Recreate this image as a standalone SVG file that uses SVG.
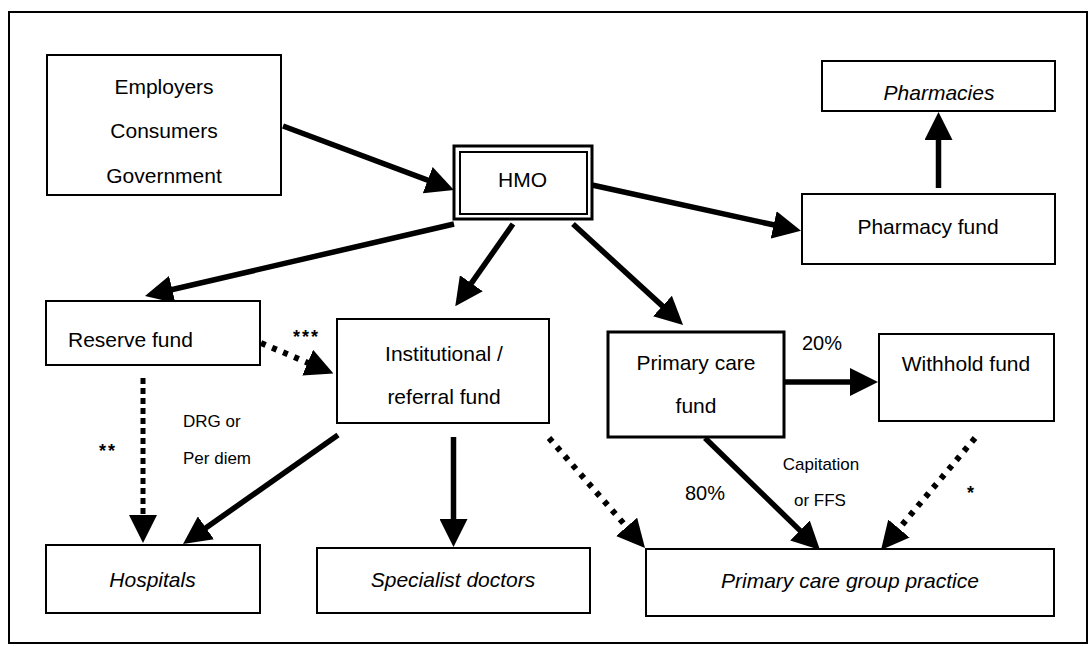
<svg xmlns="http://www.w3.org/2000/svg" width="1092" height="646" viewBox="0 0 1092 646">
<defs>
<style>
.box{fill:#fff;stroke:#000;stroke-width:2}
.t{font-family:"Liberation Sans",Arial,sans-serif;font-size:21px;fill:#000;text-anchor:middle}
.i{font-style:italic}
.s{font-family:"Liberation Sans",Arial,sans-serif;font-size:17px;fill:#000}
.st{font-family:"Liberation Sans",Arial,sans-serif;font-size:18px;font-weight:bold;fill:#000;letter-spacing:2px}
.ln{stroke:#000;stroke-width:5.5;fill:none}
.dot{stroke:#000;stroke-width:6;fill:none;stroke-dasharray:5 7}
.sq{stroke:#000;stroke-width:5;fill:none;stroke-dasharray:6 4}
</style>
<marker id="ah" viewBox="0 0 28 28" markerWidth="28" markerHeight="28" refX="2" refY="14" orient="auto" markerUnits="userSpaceOnUse">
<path d="M0,0 L28,14 L0,28 z" fill="#000"/>
</marker>
</defs>
<rect x="0" y="0" width="1092" height="646" fill="#fff"/>
<rect id="frame" x="9" y="12" width="1078" height="631" fill="none" stroke="#000" stroke-width="2"/>

<g id="connectors">
<line class="ln" x1="283" y1="126" x2="429.6" y2="180.9" marker-end="url(#ah)"/>
<line class="ln" x1="592" y1="185" x2="775.6" y2="225.3" marker-end="url(#ah)"/>
<line class="ln" x1="938.5" y1="188" x2="938.5" y2="138" marker-end="url(#ah)"/>
<line class="ln" x1="454" y1="224" x2="170.3" y2="290" marker-end="url(#ah)"/>
<line class="ln" x1="513" y1="224" x2="470.2" y2="284.9" marker-end="url(#ah)"/>
<line class="ln" x1="573" y1="224" x2="663.9" y2="307.4" marker-end="url(#ah)"/>
<line class="dot" x1="261" y1="343" x2="309.5" y2="363.5" marker-end="url(#ah)"/>
<line class="sq" x1="143" y1="378" x2="143" y2="517" marker-end="url(#ah)"/>
<line class="ln" x1="338" y1="435" x2="204.3" y2="529" marker-end="url(#ah)"/>
<line class="ln" x1="453.5" y1="437" x2="453.5" y2="521" marker-end="url(#ah)"/>
<line class="dot" x1="549" y1="438" x2="627.9" y2="528.4" marker-end="url(#ah)"/>
<line class="ln" x1="784" y1="382" x2="852" y2="382" marker-end="url(#ah)"/>
<line class="ln" x1="705" y1="438" x2="801.4" y2="531.9" marker-end="url(#ah)"/>
<line class="dot" x1="975" y1="438" x2="897.7" y2="530.1" marker-end="url(#ah)"/>
</g>

<g id="employers">
<rect class="box" x="47" y="55" width="234" height="140"/>
<text class="t" x="164" y="94">Employers</text>
<text class="t" x="164" y="138">Consumers</text>
<text class="t" x="164" y="183">Government</text>
</g>
<g id="hmo">
<rect class="box" x="454" y="146" width="138" height="73" style="stroke-width:3"/>
<rect x="460" y="152" width="127" height="62" fill="none" stroke="#000" stroke-width="2"/>
<text class="t" x="522.5" y="187">HMO</text>
</g>
<g id="pharmacies">
<rect class="box" x="822" y="61" width="233" height="50"/>
<text class="t i" x="939" y="100">Pharmacies</text>
</g>
<g id="pharmacy-fund">
<rect class="box" x="802" y="194" width="253" height="70"/>
<text class="t" x="928" y="234">Pharmacy fund</text>
</g>
<g id="reserve-fund">
<rect class="box" x="46" y="301" width="214" height="64"/>
<text class="t" x="68" y="347" style="text-anchor:start">Reserve fund</text>
</g>
<g id="institutional-fund">
<rect class="box" x="337" y="319" width="212" height="104"/>
<text class="t" x="444" y="361">Institutional /</text>
<text class="t" x="444" y="404">referral fund</text>
</g>
<g id="primary-care-fund">
<rect class="box" x="608" y="332" width="176" height="105" style="stroke-width:3"/>
<text class="t" x="696" y="370">Primary care</text>
<text class="t" x="696" y="413">fund</text>
</g>
<g id="withhold-fund">
<rect class="box" x="879" y="334" width="175" height="87"/>
<text class="t" x="966" y="371">Withhold fund</text>
</g>
<g id="hospitals">
<rect class="box" x="46" y="545" width="214" height="68"/>
<text class="t i" x="152.5" y="587">Hospitals</text>
</g>
<g id="specialist-doctors">
<rect class="box" x="317" y="548" width="273" height="65"/>
<text class="t i" x="453" y="587">Specialist doctors</text>
</g>
<g id="primary-care-group-practice">
<rect class="box" x="646" y="549" width="408" height="67"/>
<text class="t i" x="850" y="588">Primary care group practice</text>
</g>

<g id="labels">
<text class="st" x="293" y="343">***</text>
<text class="st" x="99" y="457">**</text>
<text class="st" x="967" y="499">*</text>
<text class="s" x="183" y="427">DRG or</text>
<text class="s" x="183" y="464">Per diem</text>
<text class="t" x="822" y="350" style="font-size:20px">20%</text>
<text class="t" x="705" y="500" style="font-size:20px">80%</text>
<text class="s" x="821" y="470" style="text-anchor:middle">Capitation</text>
<text class="s" x="820" y="506" style="text-anchor:middle">or FFS</text>
</g>
</svg>
